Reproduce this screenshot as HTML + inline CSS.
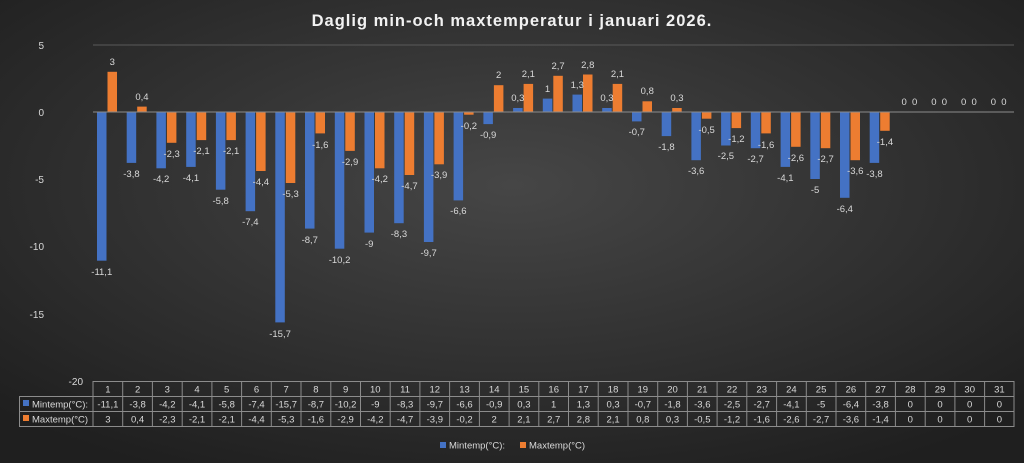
<!DOCTYPE html>
<html><head><meta charset="utf-8"><style>
html,body{margin:0;padding:0;background:#262626;}
svg{display:block;font-family:"Liberation Sans",sans-serif;}
</style></head><body>
<svg width="1024" height="463" viewBox="0 0 1024 463" xmlns="http://www.w3.org/2000/svg">
<defs>
<radialGradient id="bg" cx="50%" cy="40%" r="70%">
<stop offset="0" stop-color="#464646"/><stop offset="1" stop-color="#1f1f1f"/>
</radialGradient>
</defs>
<rect width="1024" height="463" fill="url(#bg)"/>
<text x="512" y="26" text-anchor="middle" fill="#f2f2f2" font-size="16.5" font-weight="bold" letter-spacing="1">Daglig min-och maxtemperatur i januari 2026.</text>
<g stroke="#5a5a5a" stroke-width="1">
<line x1="93" y1="45" x2="1014" y2="45"/>
</g>
<g fill="#d9d9d9" font-size="10" text-anchor="end">
<text x="44" y="49">5</text><text x="44" y="116">0</text><text x="44" y="183">-5</text><text x="44" y="250">-10</text><text x="44" y="318">-15</text><text x="83" y="385">-20</text>
</g>
<g font-size="9.5" fill="#d9d9d9" text-anchor="middle">
<g transform="translate(93,0)"><rect x="4" y="112" width="9.5" height="148.7" fill="#4472c4"/><rect x="14.5" y="71.8" width="9.5" height="40.2" fill="#ed7d31"/><text x="8.75" y="275">-11,1</text><text x="19.25" y="65">3</text></g>
<g transform="translate(122.7,0)"><rect x="4" y="112" width="9.5" height="50.9" fill="#4472c4"/><rect x="14.5" y="106.6" width="9.5" height="5.4" fill="#ed7d31"/><text x="8.75" y="177">-3,8</text><text x="19.25" y="100">0,4</text></g>
<g transform="translate(152.4,0)"><rect x="4" y="112" width="9.5" height="56.3" fill="#4472c4"/><rect x="14.5" y="112" width="9.5" height="30.8" fill="#ed7d31"/><text x="8.75" y="182">-4,2</text><text x="19.25" y="157">-2,3</text></g>
<g transform="translate(182.2,0)"><rect x="4" y="112" width="9.5" height="54.9" fill="#4472c4"/><rect x="14.5" y="112" width="9.5" height="28.1" fill="#ed7d31"/><text x="8.75" y="181">-4,1</text><text x="19.25" y="154">-2,1</text></g>
<g transform="translate(211.9,0)"><rect x="4" y="112" width="9.5" height="77.7" fill="#4472c4"/><rect x="14.5" y="112" width="9.5" height="28.1" fill="#ed7d31"/><text x="8.75" y="204">-5,8</text><text x="19.25" y="154">-2,1</text></g>
<g transform="translate(241.6,0)"><rect x="4" y="112" width="9.5" height="99.2" fill="#4472c4"/><rect x="14.5" y="112" width="9.5" height="59" fill="#ed7d31"/><text x="8.75" y="225">-7,4</text><text x="19.25" y="185">-4,4</text></g>
<g transform="translate(271.3,0)"><rect x="4" y="112" width="9.5" height="210.4" fill="#4472c4"/><rect x="14.5" y="112" width="9.5" height="71" fill="#ed7d31"/><text x="8.75" y="337">-15,7</text><text x="19.25" y="197">-5,3</text></g>
<g transform="translate(301,0)"><rect x="4" y="112" width="9.5" height="116.6" fill="#4472c4"/><rect x="14.5" y="112" width="9.5" height="21.4" fill="#ed7d31"/><text x="8.75" y="243">-8,7</text><text x="19.25" y="148">-1,6</text></g>
<g transform="translate(330.8,0)"><rect x="4" y="112" width="9.5" height="136.7" fill="#4472c4"/><rect x="14.5" y="112" width="9.5" height="38.9" fill="#ed7d31"/><text x="8.75" y="263">-10,2</text><text x="19.25" y="165">-2,9</text></g>
<g transform="translate(360.5,0)"><rect x="4" y="112" width="9.5" height="120.6" fill="#4472c4"/><rect x="14.5" y="112" width="9.5" height="56.3" fill="#ed7d31"/><text x="8.75" y="247">-9</text><text x="19.25" y="182">-4,2</text></g>
<g transform="translate(390.2,0)"><rect x="4" y="112" width="9.5" height="111.2" fill="#4472c4"/><rect x="14.5" y="112" width="9.5" height="63" fill="#ed7d31"/><text x="8.75" y="237">-8,3</text><text x="19.25" y="189">-4,7</text></g>
<g transform="translate(419.9,0)"><rect x="4" y="112" width="9.5" height="130" fill="#4472c4"/><rect x="14.5" y="112" width="9.5" height="52.3" fill="#ed7d31"/><text x="8.75" y="256">-9,7</text><text x="19.25" y="178">-3,9</text></g>
<g transform="translate(449.6,0)"><rect x="4" y="112" width="9.5" height="88.4" fill="#4472c4"/><rect x="14.5" y="112" width="9.5" height="2.7" fill="#ed7d31"/><text x="8.75" y="214">-6,6</text><text x="19.25" y="129">-0,2</text></g>
<g transform="translate(479.4,0)"><rect x="4" y="112" width="9.5" height="12.1" fill="#4472c4"/><rect x="14.5" y="85.2" width="9.5" height="26.8" fill="#ed7d31"/><text x="8.75" y="138">-0,9</text><text x="19.25" y="78">2</text></g>
<g transform="translate(509.1,0)"><rect x="4" y="108" width="9.5" height="4" fill="#4472c4"/><rect x="14.5" y="83.9" width="9.5" height="28.1" fill="#ed7d31"/><text x="8.75" y="101">0,3</text><text x="19.25" y="77">2,1</text></g>
<g transform="translate(538.8,0)"><rect x="4" y="98.6" width="9.5" height="13.4" fill="#4472c4"/><rect x="14.5" y="75.8" width="9.5" height="36.2" fill="#ed7d31"/><text x="8.75" y="92">1</text><text x="19.25" y="69">2,7</text></g>
<g transform="translate(568.5,0)"><rect x="4" y="94.6" width="9.5" height="17.4" fill="#4472c4"/><rect x="14.5" y="74.5" width="9.5" height="37.5" fill="#ed7d31"/><text x="8.75" y="88">1,3</text><text x="19.25" y="68">2,8</text></g>
<g transform="translate(598.2,0)"><rect x="4" y="108" width="9.5" height="4" fill="#4472c4"/><rect x="14.5" y="83.9" width="9.5" height="28.1" fill="#ed7d31"/><text x="8.75" y="101">0,3</text><text x="19.25" y="77">2,1</text></g>
<g transform="translate(628,0)"><rect x="4" y="112" width="9.5" height="9.4" fill="#4472c4"/><rect x="14.5" y="101.3" width="9.5" height="10.7" fill="#ed7d31"/><text x="8.75" y="135">-0,7</text><text x="19.25" y="94">0,8</text></g>
<g transform="translate(657.7,0)"><rect x="4" y="112" width="9.5" height="24.1" fill="#4472c4"/><rect x="14.5" y="108" width="9.5" height="4" fill="#ed7d31"/><text x="8.75" y="150">-1,8</text><text x="19.25" y="101">0,3</text></g>
<g transform="translate(687.4,0)"><rect x="4" y="112" width="9.5" height="48.2" fill="#4472c4"/><rect x="14.5" y="112" width="9.5" height="6.7" fill="#ed7d31"/><text x="8.75" y="174">-3,6</text><text x="19.25" y="133">-0,5</text></g>
<g transform="translate(717.1,0)"><rect x="4" y="112" width="9.5" height="33.5" fill="#4472c4"/><rect x="14.5" y="112" width="9.5" height="16.1" fill="#ed7d31"/><text x="8.75" y="159">-2,5</text><text x="19.25" y="142">-1,2</text></g>
<g transform="translate(746.8,0)"><rect x="4" y="112" width="9.5" height="36.2" fill="#4472c4"/><rect x="14.5" y="112" width="9.5" height="21.4" fill="#ed7d31"/><text x="8.75" y="162">-2,7</text><text x="19.25" y="148">-1,6</text></g>
<g transform="translate(776.6,0)"><rect x="4" y="112" width="9.5" height="54.9" fill="#4472c4"/><rect x="14.5" y="112" width="9.5" height="34.8" fill="#ed7d31"/><text x="8.75" y="181">-4,1</text><text x="19.25" y="161">-2,6</text></g>
<g transform="translate(806.3,0)"><rect x="4" y="112" width="9.5" height="67" fill="#4472c4"/><rect x="14.5" y="112" width="9.5" height="36.2" fill="#ed7d31"/><text x="8.75" y="193">-5</text><text x="19.25" y="162">-2,7</text></g>
<g transform="translate(836,0)"><rect x="4" y="112" width="9.5" height="85.8" fill="#4472c4"/><rect x="14.5" y="112" width="9.5" height="48.2" fill="#ed7d31"/><text x="8.75" y="212">-6,4</text><text x="19.25" y="174">-3,6</text></g>
<g transform="translate(865.7,0)"><rect x="4" y="112" width="9.5" height="50.9" fill="#4472c4"/><rect x="14.5" y="112" width="9.5" height="18.8" fill="#ed7d31"/><text x="8.75" y="177">-3,8</text><text x="19.25" y="145">-1,4</text></g>
<g transform="translate(895.4,0)"><text x="8.75" y="105">0</text><text x="19.25" y="105">0</text></g>
<g transform="translate(925.2,0)"><text x="8.75" y="105">0</text><text x="19.25" y="105">0</text></g>
<g transform="translate(954.9,0)"><text x="8.75" y="105">0</text><text x="19.25" y="105">0</text></g>
<g transform="translate(984.6,0)"><text x="8.75" y="105">0</text><text x="19.25" y="105">0</text></g>
</g>
<line x1="93" y1="112" x2="1014" y2="112" stroke="#8c8c8c" stroke-width="1"/>
<g stroke="#8c8c8c" stroke-width="1" fill="none">
<line x1="93" y1="381.5" x2="1014" y2="381.5"/>
<line x1="19" y1="396.5" x2="1014" y2="396.5"/>
<line x1="19" y1="411.5" x2="1014" y2="411.5"/>
<line x1="19" y1="426.5" x2="1014" y2="426.5"/>
<line x1="19.5" y1="396" x2="19.5" y2="427"/>
<line x1="93" y1="381" x2="93" y2="427"/><line x1="122.7" y1="381" x2="122.7" y2="427"/><line x1="152.4" y1="381" x2="152.4" y2="427"/><line x1="182.2" y1="381" x2="182.2" y2="427"/><line x1="211.9" y1="381" x2="211.9" y2="427"/><line x1="241.6" y1="381" x2="241.6" y2="427"/><line x1="271.3" y1="381" x2="271.3" y2="427"/><line x1="301" y1="381" x2="301" y2="427"/><line x1="330.8" y1="381" x2="330.8" y2="427"/><line x1="360.5" y1="381" x2="360.5" y2="427"/><line x1="390.2" y1="381" x2="390.2" y2="427"/><line x1="419.9" y1="381" x2="419.9" y2="427"/><line x1="449.6" y1="381" x2="449.6" y2="427"/><line x1="479.4" y1="381" x2="479.4" y2="427"/><line x1="509.1" y1="381" x2="509.1" y2="427"/><line x1="538.8" y1="381" x2="538.8" y2="427"/><line x1="568.5" y1="381" x2="568.5" y2="427"/><line x1="598.2" y1="381" x2="598.2" y2="427"/><line x1="628" y1="381" x2="628" y2="427"/><line x1="657.7" y1="381" x2="657.7" y2="427"/><line x1="687.4" y1="381" x2="687.4" y2="427"/><line x1="717.1" y1="381" x2="717.1" y2="427"/><line x1="746.8" y1="381" x2="746.8" y2="427"/><line x1="776.6" y1="381" x2="776.6" y2="427"/><line x1="806.3" y1="381" x2="806.3" y2="427"/><line x1="836" y1="381" x2="836" y2="427"/><line x1="865.7" y1="381" x2="865.7" y2="427"/><line x1="895.4" y1="381" x2="895.4" y2="427"/><line x1="925.2" y1="381" x2="925.2" y2="427"/><line x1="954.9" y1="381" x2="954.9" y2="427"/><line x1="984.6" y1="381" x2="984.6" y2="427"/><line x1="1014" y1="381" x2="1014" y2="427"/>
</g>
<rect x="23" y="400" width="6" height="6" fill="#4472c4"/>
<rect x="23" y="415" width="6" height="6" fill="#ed7d31"/>
<g fill="#d9d9d9" font-size="9.5">
<text x="32" y="407.5">Mintemp(°C):</text>
<text x="32" y="422.5">Maxtemp(°C)</text>
</g>
<g fill="#d9d9d9" font-size="9.5" text-anchor="middle">
<text y="392.5"><tspan x="107.9">1</tspan><tspan x="137.6">2</tspan><tspan x="167.3">3</tspan><tspan x="197">4</tspan><tspan x="226.7">5</tspan><tspan x="256.5">6</tspan><tspan x="286.2">7</tspan><tspan x="315.9">8</tspan><tspan x="345.6">9</tspan><tspan x="375.3">10</tspan><tspan x="405.1">11</tspan><tspan x="434.8">12</tspan><tspan x="464.5">13</tspan><tspan x="494.2">14</tspan><tspan x="523.9">15</tspan><tspan x="553.7">16</tspan><tspan x="583.4">17</tspan><tspan x="613.1">18</tspan><tspan x="642.8">19</tspan><tspan x="672.5">20</tspan><tspan x="702.3">21</tspan><tspan x="732">22</tspan><tspan x="761.7">23</tspan><tspan x="791.4">24</tspan><tspan x="821.1">25</tspan><tspan x="850.9">26</tspan><tspan x="880.6">27</tspan><tspan x="910.3">28</tspan><tspan x="940">29</tspan><tspan x="969.7">30</tspan><tspan x="999.4">31</tspan></text>
<text y="407.5"><tspan x="107.9">-11,1</tspan><tspan x="137.6">-3,8</tspan><tspan x="167.3">-4,2</tspan><tspan x="197">-4,1</tspan><tspan x="226.7">-5,8</tspan><tspan x="256.5">-7,4</tspan><tspan x="286.2">-15,7</tspan><tspan x="315.9">-8,7</tspan><tspan x="345.6">-10,2</tspan><tspan x="375.3">-9</tspan><tspan x="405.1">-8,3</tspan><tspan x="434.8">-9,7</tspan><tspan x="464.5">-6,6</tspan><tspan x="494.2">-0,9</tspan><tspan x="523.9">0,3</tspan><tspan x="553.7">1</tspan><tspan x="583.4">1,3</tspan><tspan x="613.1">0,3</tspan><tspan x="642.8">-0,7</tspan><tspan x="672.5">-1,8</tspan><tspan x="702.3">-3,6</tspan><tspan x="732">-2,5</tspan><tspan x="761.7">-2,7</tspan><tspan x="791.4">-4,1</tspan><tspan x="821.1">-5</tspan><tspan x="850.9">-6,4</tspan><tspan x="880.6">-3,8</tspan><tspan x="910.3">0</tspan><tspan x="940">0</tspan><tspan x="969.7">0</tspan><tspan x="999.4">0</tspan></text>
<text y="422.5"><tspan x="107.9">3</tspan><tspan x="137.6">0,4</tspan><tspan x="167.3">-2,3</tspan><tspan x="197">-2,1</tspan><tspan x="226.7">-2,1</tspan><tspan x="256.5">-4,4</tspan><tspan x="286.2">-5,3</tspan><tspan x="315.9">-1,6</tspan><tspan x="345.6">-2,9</tspan><tspan x="375.3">-4,2</tspan><tspan x="405.1">-4,7</tspan><tspan x="434.8">-3,9</tspan><tspan x="464.5">-0,2</tspan><tspan x="494.2">2</tspan><tspan x="523.9">2,1</tspan><tspan x="553.7">2,7</tspan><tspan x="583.4">2,8</tspan><tspan x="613.1">2,1</tspan><tspan x="642.8">0,8</tspan><tspan x="672.5">0,3</tspan><tspan x="702.3">-0,5</tspan><tspan x="732">-1,2</tspan><tspan x="761.7">-1,6</tspan><tspan x="791.4">-2,6</tspan><tspan x="821.1">-2,7</tspan><tspan x="850.9">-3,6</tspan><tspan x="880.6">-1,4</tspan><tspan x="910.3">0</tspan><tspan x="940">0</tspan><tspan x="969.7">0</tspan><tspan x="999.4">0</tspan></text>
</g>
<rect x="440" y="442" width="6" height="6" fill="#4472c4"/>
<text x="449" y="448.5" fill="#d9d9d9" font-size="9.5">Mintemp(°C):</text>
<rect x="520" y="442" width="6" height="6" fill="#ed7d31"/>
<text x="529" y="448.5" fill="#d9d9d9" font-size="9.5">Maxtemp(°C)</text>
</svg>
</body></html>
